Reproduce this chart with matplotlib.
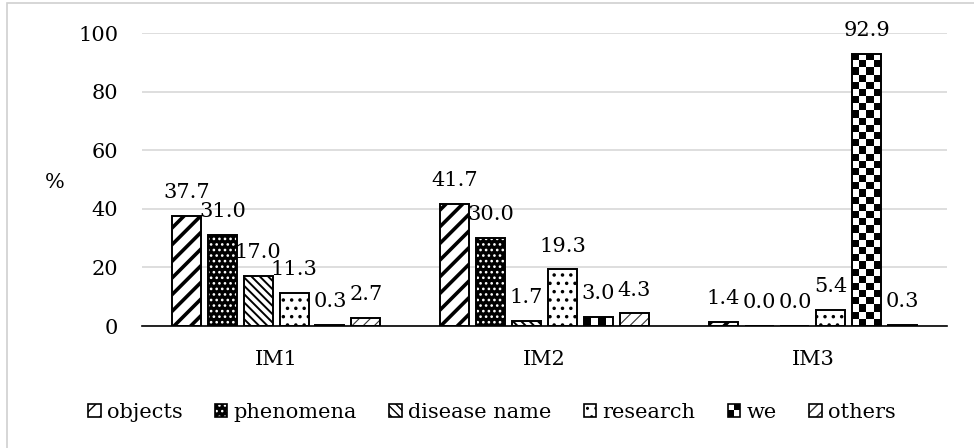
import matplotlib
matplotlib.use('Agg')
import matplotlib.pyplot as plt
import numpy as np
from matplotlib.patches import Patch, Rectangle
from matplotlib.legend_handler import HandlerBase, HandlerTuple

plt.rcParams['font.family'] = 'DejaVu Serif'
plt.rcParams['text.color'] = 'black'

#%% Data
categories = ['IM1', 'IM2', 'IM3']
objects = [37.7, 41.7, 1.4]
phenomena = [31.0, 30.0, 0.0]
disease_name = [17.0, 1.7, 0.0]
research = [11.3, 19.3, 5.4]
we = [0.3, 3.0, 92.9]
others = [2.7, 4.3, 0.3]
series_names = ['objects', 'phenomena', 'disease name', 'research', 'we',
                'others']
y_ticks = [0, 20, 40, 60, 80, 100]

series_values = [objects, phenomena, disease_name, research, we, others]

# face colour, hatch colour, hatch, hatch linewidth (None -> checkerboard)
styles = [
    ('white', 'black', '//', 2.6),
    ('black', 'white', '...', 1.1),
    ('white', 'black', '\\\\\\\\', 1.4),
    ('white', 'black', '..', 1.3),
    ('white', 'black', None, 1.0),
    ('white', '#333333', '///', 0.8),
]

FS = 15
BAR_W = 0.108
PITCH = 0.1336

#%% Figure
fig = plt.figure(figsize=(9.74, 4.48), dpi=100)
ax = fig.add_axes([142 / 974, 1 - 326 / 448, 805 / 974, 293 / 448])
ax.set_xlim(-0.5, 2.5)
ax.set_ylim(0, 100)

# light frame round the chart area (top and left edges show)
fig.patches.append(Rectangle((7 / 974, -0.1), 2, 1 - 3 / 448 + 0.1,
                             transform=fig.transFigure, fill=False,
                             edgecolor='#d0d0d0', lw=1.2))

x = np.arange(len(categories))
legend_handles = []


class CheckerHandler(HandlerBase):
    def create_artists(self, legend, orig_handle, xdescent, ydescent, width,
                       height, fontsize, trans):
        out = []
        hw, hh = width / 2, height / 2
        for a in range(2):
            for b in range(2):
                c = 'black' if (a + b) % 2 == 0 else 'white'
                out.append(Rectangle((-xdescent + a * hw, -ydescent + b * hh),
                                     hw, hh, facecolor=c, edgecolor='none',
                                     transform=trans))
        out.append(Rectangle((-xdescent, -ydescent), width, height,
                             facecolor='none', edgecolor='black', lw=1.2,
                             transform=trans))
        return out


for i, (name, vals) in enumerate(zip(series_names, series_values)):
    face, hcol, hatch, hlw = styles[i]
    pos = x + (i - 2.5) * PITCH
    with plt.rc_context({'hatch.linewidth': hlw}):
        fill = ax.bar(pos, vals, BAR_W, color=face, edgecolor=hcol,
                      hatch=hatch, linewidth=0, zorder=2)
        legend_fill = Patch(facecolor=face, edgecolor=hcol, hatch=hatch,
                            linewidth=0)
    for p in list(fill) + [legend_fill]:
        if hasattr(p, 'set_hatch_linewidth'):
            p.set_hatch_linewidth(hlw)
    if hatch is None:
        # checkerboard fill, cells about 7 px
        for p in fill:
            bx, bw, bh = p.get_x(), p.get_width(), p.get_height()
            if bh <= 0:
                continue
            (px0, py0), (px1, py1) = ax.transData.transform(
                [(bx, 0), (bx + bw, bh)])
            ncols = 4
            cell = (px1 - px0) / ncols
            nrows = max(1, int(round((py1 - py0) / cell)))
            board = np.indices((nrows, ncols)).sum(axis=0) % 2
            im = ax.imshow(board, cmap='gray', extent=(bx, bx + bw, 0, bh),
                           origin='upper', interpolation='nearest',
                           aspect='auto', zorder=2.5, vmin=0, vmax=1)
            im.set_clip_path(p)
    outline = ax.bar(pos, vals, BAR_W, fill=False, edgecolor='black',
                     linewidth=1.4, zorder=3)
    ax.bar_label(outline, fmt='%.1f', padding=10, fontsize=FS,
                 clip_on=False)
    if hatch is None:
        legend_handles.append(Patch(facecolor='black'))
    else:
        legend_handles.append((legend_fill,
                               Patch(facecolor='none', edgecolor='black',
                                     linewidth=1.2)))

ax.set_xlim(-0.5, 2.5)
ax.set_ylim(0, 100)

#%% Axes styling
ax.set_xticks(x)
ax.set_xticklabels(categories, fontsize=FS)
ax.set_yticks(y_ticks)
ax.set_yticklabels([str(t) for t in y_ticks], fontsize=FS)
ax.tick_params(axis='both', length=0)
ax.tick_params(axis='y', pad=17)
ax.tick_params(axis='x', pad=17)
ax.yaxis.grid(True, color='#d4d4d4', linewidth=1.1, zorder=0)
ax.set_axisbelow(True)
for side in ['top', 'right', 'left']:
    ax.spines[side].set_visible(False)
ax.spines['bottom'].set_linewidth(1.2)
ax.spines['bottom'].set_zorder(4)

ax.set_ylabel('%', rotation=0, fontsize=FS, ha='center', va='center')
ax.yaxis.set_label_coords(-0.108, 0.491)

handler_map = {tuple: HandlerTuple(ndivide=1, pad=0),
               legend_handles[4]: CheckerHandler()}
fig.legend(handles=legend_handles, labels=series_names, loc='center',
           bbox_to_anchor=(0.505, 1 - 412 / 448), ncol=6, frameon=False,
           fontsize=FS, handlelength=0.6, handleheight=0.6,
           handletextpad=0.3, columnspacing=1.55, handler_map=handler_map)

plt.savefig('out.png', dpi=100)
